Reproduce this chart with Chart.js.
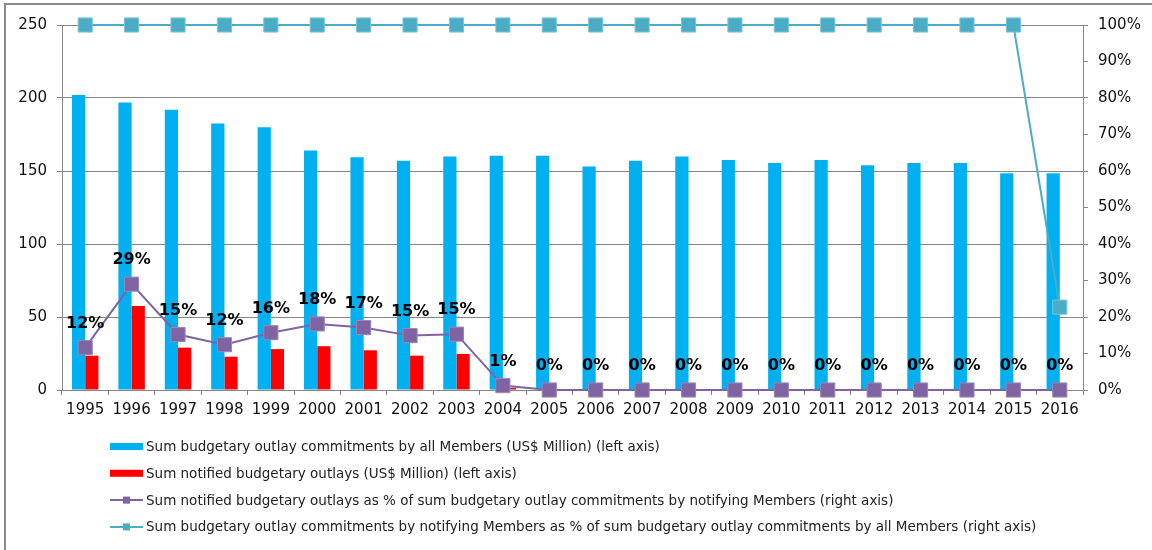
<!DOCTYPE html>
<html>
<head>
<meta charset="utf-8">
<script src="https://cdn.jsdelivr.net/npm/chart.js@4/dist/chart.umd.min.js"></script>
<style>
  html, body { margin: 0; padding: 0; background: #fff; }
  #wrap { width: 1152px; height: 550px; position: relative; }
</style>
</head>
<body>
<div id="wrap"><canvas id="myChart"></canvas></div>
<script>
// ----- data -----
var years = ['1995','1996','1997','1998','1999','2000','2001','2002','2003','2004','2005',
             '2006','2007','2008','2009','2010','2011','2012','2013','2014','2015','2016'];

var commitAll = [202, 197, 192, 182.5, 180, 164, 159.5, 157, 160, 160.5, 160.5,
                 153, 157, 160, 157.5, 155.5, 157.5, 154, 155.5, 155.5, 148.5, 148.5];

var notified = [23.5, 57.5, 29, 22.8, 28, 30, 27.2, 23.5, 24.7, 1.5, 0,
                0, 0, 0, 0, 0, 0, 0, 0, 0, 0, 0];

var notifiedPct = [11.6, 29, 15.2, 12.4, 15.7, 18.1, 17.1, 14.9, 15.3, 1.2, 0,
                   0, 0, 0, 0, 0, 0, 0, 0, 0, 0, 0];

var notifyingPct = [100, 100, 100, 100, 100, 100, 100, 100, 100, 100, 100,
                    100, 100, 100, 100, 100, 100, 100, 100, 100, 100, 22.7];

var legendTexts = [
    'Sum budgetary outlay commitments by all Members (US$ Million) (left axis)',
    'Sum notified budgetary outlays (US$ Million) (left axis)',
    'Sum notified budgetary outlays as % of sum budgetary outlay commitments by notifying Members (right axis)',
    'Sum budgetary outlay commitments by notifying Members as % of sum budgetary outlay commitments by all Members (right axis)'
];

var BLUE = '#00B0F0', RED = '#FF0000', PURPLE = '#8064A2', TEAL = '#4BACC6';
var GRID = '#868686';

Chart.defaults.font.family = '"DejaVu Sans", Verdana, sans-serif';
Chart.defaults.font.size = 15;
Chart.defaults.color = '#111';

// frame around the whole chart
const frame = {
    id: 'frame',
    beforeDraw(chart) {
        const ctx = chart.ctx;
        ctx.save();
        ctx.strokeStyle = '#8c8c8c';
        ctx.lineWidth = 2;
        ctx.beginPath();
        ctx.moveTo(5, 560);
        ctx.lineTo(5, 4);
        ctx.lineTo(1160, 4);
        ctx.stroke();
        ctx.restore();
    }
};

// % labels above the purple line
const pctLabels = {
    id: 'pctLabels',
    afterDatasetsDraw(chart) {
        const ctx = chart.ctx;
        const meta = chart.getDatasetMeta(2);
        ctx.save();
        ctx.font = 'bold 16px "DejaVu Sans", Verdana, sans-serif';
        ctx.fillStyle = '#000';
        ctx.textAlign = 'center';
        ctx.textBaseline = 'middle';
        meta.data.forEach((pt, i) => {
            ctx.fillText(Math.round(notifiedPct[i]) + '%', pt.x, pt.y - 24);
        });
        ctx.restore();
    }
};

// legend, one item per row, left aligned
const rowLegend = {
    id: 'rowLegend',
    afterDraw(chart) {
        const ctx = chart.ctx;
        const colors = [BLUE, RED, PURPLE, TEAL];
        ctx.save();
        ctx.font = '13.5px "DejaVu Sans", Verdana, sans-serif';
        ctx.textBaseline = 'middle';
        ctx.textAlign = 'left';
        for (let i = 0; i < 4; i++) {
            const y = 446.5 + i * 26.8;
            ctx.fillStyle = colors[i];
            if (i < 2) {
                ctx.fillRect(110, y - 3.5, 33, 7);
            } else {
                ctx.strokeStyle = colors[i];
                ctx.lineWidth = 2;
                ctx.beginPath();
                ctx.moveTo(110, y);
                ctx.lineTo(143, y);
                ctx.stroke();
                ctx.fillRect(123, y - 3.5, 7, 7);
            }
            ctx.fillStyle = '#222';
            ctx.fillText(legendTexts[i], 146, y + 1);
        }
        ctx.restore();
    }
};

const data = {
    labels: years,
    datasets: [
        {
            type: 'bar',
            label: legendTexts[0],
            data: commitAll,
            backgroundColor: BLUE,
            yAxisID: 'y',
            order: 3
        },
        {
            type: 'bar',
            label: legendTexts[1],
            data: notified,
            backgroundColor: RED,
            yAxisID: 'y',
            order: 4
        },
        {
            type: 'line',
            label: legendTexts[2],
            data: notifiedPct,
            borderColor: PURPLE,
            backgroundColor: PURPLE,
            borderWidth: 2,
            pointStyle: 'rect',
            pointRadius: 10,
            pointBorderColor: '#9a86b8',
            pointBorderWidth: 1,
            yAxisID: 'y2',
            clip: false,
            order: 1
        },
        {
            type: 'line',
            label: legendTexts[3],
            data: notifyingPct,
            borderColor: TEAL,
            backgroundColor: TEAL,
            borderWidth: 2,
            pointStyle: 'rect',
            pointRadius: 10,
            pointBorderColor: '#7cc3d6',
            pointBorderWidth: 1,
            yAxisID: 'y2',
            clip: false,
            order: 2
        }
    ]
};

const config = {
    type: 'bar',
    data: data,
    options: {
        responsive: true,
        maintainAspectRatio: false,
        animation: false,
        categoryPercentage: 0.57,
        barPercentage: 1.0,
        layout: { padding: { top: 25, bottom: 130, left: 0, right: 0 } },
        scales: {
            x: {
                grid: { drawOnChartArea: false, color: GRID, tickLength: 5, offset: true },
                border: { color: GRID },
                ticks: { padding: 6, maxRotation: 0, autoSkip: false },
                afterFit(scale) { scale.height = 30; }
            },
            y: {
                position: 'left',
                min: 0,
                max: 250,
                ticks: { stepSize: 50, padding: 10 },
                grid: { color: GRID, tickLength: 5 },
                border: { color: GRID },
                afterFit(scale) { scale.width = 62; }
            },
            y2: {
                position: 'right',
                min: 0,
                max: 100,
                ticks: { stepSize: 10, padding: 10, callback: (v) => v + '%' },
                grid: { drawOnChartArea: false, color: GRID, tickLength: 5 },
                border: { color: GRID },
                afterFit(scale) { scale.width = 69; }
            }
        },
        plugins: {
            legend: { display: false },
            tooltip: { enabled: false }
        }
    },
    plugins: [frame, pctLabels, rowLegend]
};

const myChart = new Chart(document.getElementById('myChart').getContext('2d'), config);
</script>
</body>
</html>
